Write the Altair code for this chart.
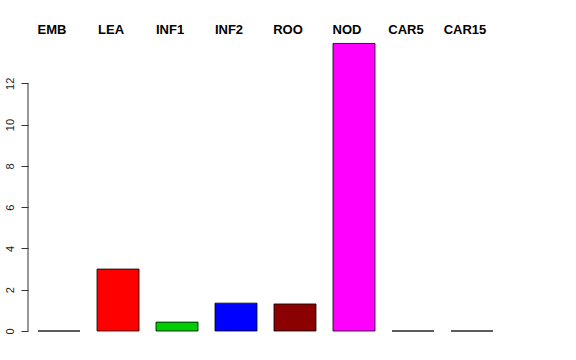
import altair as alt
import pandas as pd

categories = ["EMB", "LEA", "INF1", "INF2", "ROO", "NOD", "CAR5", "CAR15"]
values = [0.0, 3.0, 0.43, 1.35, 1.31, 13.93, 0.0, 0.0]
colors = ["#000000", "#FF0000", "#00CD00", "#0000FF", "#8B0000", "#FF00FF", "#00FFFF", "#BEBEBE"]
y_ticks = [0, 2, 4, 6, 8, 10, 12]

df = pd.DataFrame({"cat": categories, "val": values, "col": colors})
axis_df = pd.DataFrame({"lo": [min(y_ticks)], "hi": [max(y_ticks)]})

W, H = 475, 289
yscale = alt.Scale(domain=[0, 14], nice=False, zero=True)
xscale = alt.Scale(paddingInner=0.288, paddingOuter=0.17)

bars = alt.Chart(df).mark_bar(stroke="#000000", strokeWidth=0.8).encode(
    x=alt.X("cat:N", sort=categories, axis=None, scale=xscale),
    y=alt.Y("val:Q", scale=yscale,
            axis=alt.Axis(values=y_ticks, title=None, domain=False, grid=False,
                          tickSize=7, tickColor="#333333", labelAngle=270,
                          labelAlign="center", labelBaseline="bottom",
                          labelPadding=6, labelFont="Liberation Sans",
                          labelFontSize=11, labelColor="#222222")),
    color=alt.Color("col:N", scale=None),
)

axis_line = alt.Chart(axis_df).mark_rule(color="#333333", strokeWidth=1).encode(
    x=alt.value(0),
    y=alt.Y("lo:Q", scale=yscale),
    y2="hi:Q",
)

labels = alt.Chart(df).mark_text(
    font="Liberation Sans", fontWeight="bold", fontSize=13, color="#000000",
    baseline="middle", align="center", dx=-7
).encode(
    x=alt.X("cat:N", sort=categories, axis=None, scale=xscale, bandPosition=0.5),
    y=alt.value(-12),
    text="cat:N",
)

chart = alt.layer(bars, axis_line, labels).properties(
    width=W, height=H,
    autosize=alt.AutoSizeParams(type="none"),
    padding={"left": 28, "top": 42, "right": 73, "bottom": 29},
).configure(background="#FFFFFF").configure_view(strokeWidth=0)

chart.save("out.html", embed_options={"renderer": "svg", "actions": False})
